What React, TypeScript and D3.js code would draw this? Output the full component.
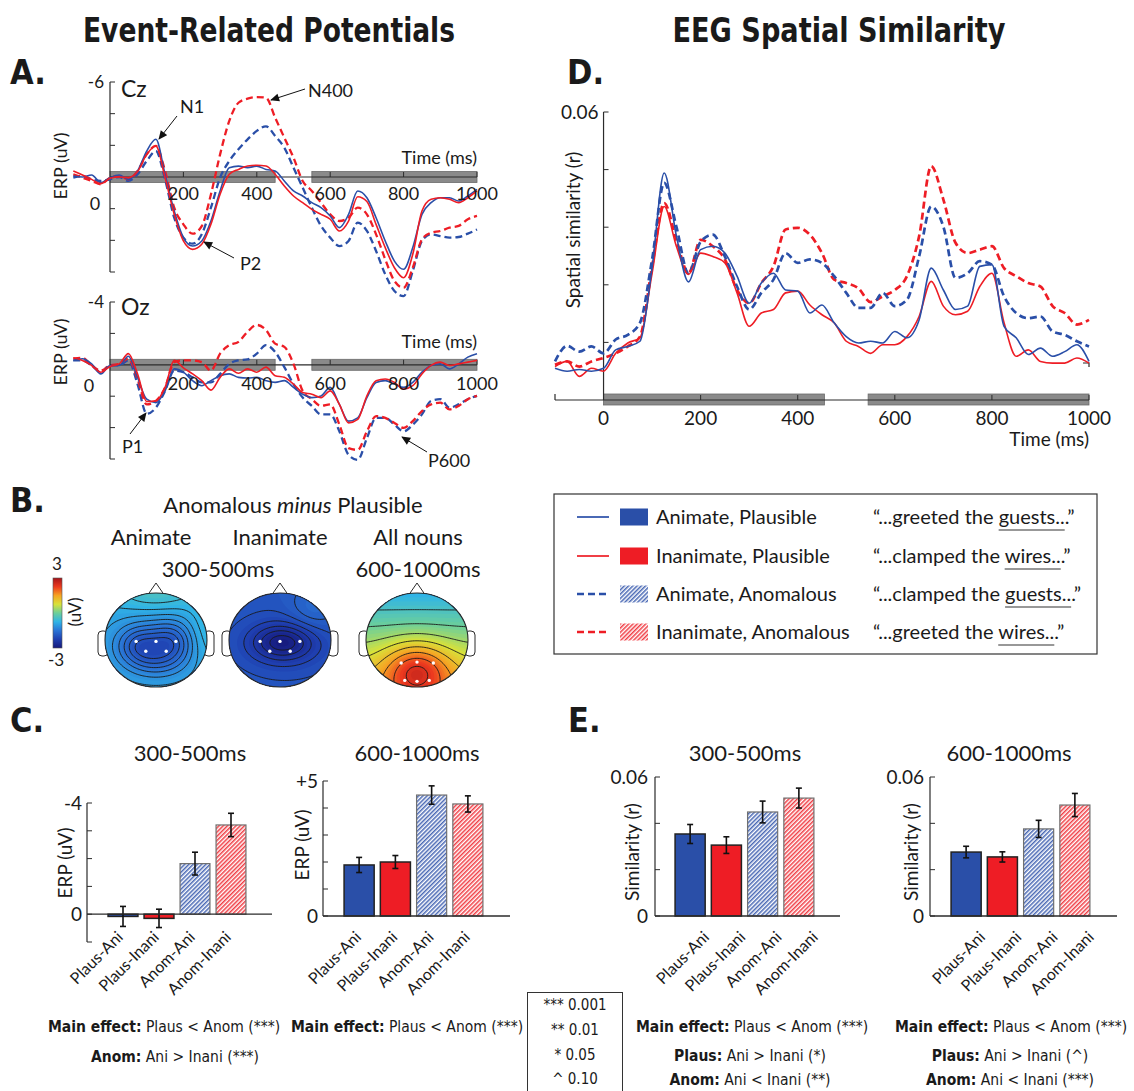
import React, { useEffect, useRef } from "react";
import * as d3 from "d3";

const BLUE = "#2a4fa8";
const RED = "#ee1d25";
const INK = "#2b2b2b";
const FONT = "Lato, 'Open Sans', 'Noto Sans', sans-serif";
const NARROW = "'Liberation Sans Narrow', 'DejaVu Sans Condensed', 'Liberation Sans', sans-serif";

// waveform time base (ms)
const erpTimes = d3.range(-100, 1001, 25);
const statWindows = [[0, 450], [550, 1000]];
const simWindows = [[0, 455], [545, 1000]];

// Cz ERPs (uV, negative plotted up)
const czPlausAni = [-0.06, 0, -0.13, 0.36, 0.04, -0.13, 0.15, -0.38, -1.64, -2.38, -0.17, 2.15, 3.83, 4.36, 4.04, 2.78, 0.88, -0.59, -0.69, -0.59, -0.69, -0.48, -0.38, 0.25, 0.88, 1.2, 1.62, 1.94, 2.46, 3.2, 2.36, 0.88, 1.31, 2.57, 4.04, 5.31, 5.83, 4.46, 2.36, 1.62, 1.31, 1.31, 1.52, 1.2, 0.78];
const czPlausInani = [-0.38, -0.13, 0.15, 0.42, 0.08, 0, 0.04, -0.34, -1.43, -1.96, 0.04, 2.36, 4.04, 4.57, 4.25, 2.99, 1.09, -0.17, -0.48, -0.69, -0.74, -0.69, -0.17, 0.57, 1.2, 1.62, 2.04, 2.36, 2.67, 3.41, 2.78, 1.25, 1.55, 2.99, 4.46, 5.73, 6.36, 4.88, 2.15, 1.41, 1.31, 1.41, 1.62, 1.31, 0.88];
const czAnomAni = [0.04, -0.06, 0.15, 0.25, 0.15, 0, 0.25, -0.17, -1.01, -1.64, 0.15, 2.57, 3.83, 4.21, 3.62, 1.94, 0.04, -1.01, -1.75, -2.38, -2.91, -3.2, -2.59, -1.85, -0.59, 0.67, 1.94, 3.09, 3.83, 4.36, 4.04, 2.88, 3.41, 4.67, 6.15, 7.2, 7.52, 5.94, 4.04, 3.62, 3.73, 3.83, 3.79, 3.58, 3.31];
const czAnomInani = [-0.17, 0.04, 0.25, 0.46, 0.04, -0.06, 0.15, -0.38, -1.43, -1.96, -0.38, 1.94, 2.99, 3.58, 3.1, 1.1, -1.43, -3.54, -4.69, -4.95, -5.05, -5.01, -3.75, -2.48, -1.22, 0.25, 0.88, 1.62, 2.36, 2.78, 2.57, 1.94, 2.36, 3.62, 5.2, 6.57, 6.99, 5.73, 3.94, 3.52, 3.41, 3.2, 3.09, 2.67, 2.46];

// Oz ERPs (uV)
const ozPlausAni = [-0.28, -0.39, -0.06, 0.58, 0.04, 0.04, -0.54, 0.8, 2.19, 2.41, 1.66, 0.26, 0.47, 1.01, 1.33, 1.01, 0.69, 0.58, 0.8, 0.84, 0.8, 1.01, 1.12, 1.01, 1.44, 1.87, 2.09, 1.98, 1.44, 2.52, 3.59, 3.38, 2.09, 1.12, 1.01, 1.23, 1.44, 1.12, 0.47, 0.04, -0.06, 0.26, -0.06, -0.49, -0.71];
const ozPlausInani = [-0.45, -0.28, 0.04, 0.47, 0.11, -0.06, -0.71, 0.58, 2.34, 2.3, 1.44, -0.28, 0.19, 0.58, 1.01, 1.61, 0.8, 0.26, 0.54, 0.26, 0.47, 0.15, 0.69, 0.8, 1.23, 1.76, 1.87, 2.09, 1.66, 2.52, 3.7, 3.48, 1.98, 1.01, 0.9, 1.12, 1.55, 1.33, 0.58, 0.04, -0.17, 0.04, -0.06, -0.17, -0.28];
const ozAnomAni = [-0.28, -0.28, 0.04, 0.47, 0.04, 0.04, -0.28, 1.23, 3.12, 2.73, 1.66, 0.37, 0.47, 0.8, 1.12, 1.12, 0.58, -0.06, -0.28, -0.34, -0.71, -1.25, -0.82, 0.15, 1.23, 2.09, 2.62, 3.16, 3.16, 4.24, 5.74, 6.06, 4.67, 3.38, 3.38, 3.81, 4.24, 3.81, 3.16, 2.3, 2.19, 2.73, 2.52, 2.19, 1.98];
const ozAnomInani = [-0.39, -0.45, 0.04, 0.37, 0.04, -0.06, -0.39, 0.9, 2.52, 2.3, 1.44, -0.17, -0.28, -0.28, -0.17, 0.37, -0.71, -1.25, -1.46, -2.11, -2.54, -2.22, -1.35, -1.14, -0.06, 1.66, 2.19, 2.62, 2.52, 3.81, 5.31, 5.42, 4.24, 3.27, 3.38, 3.7, 4.02, 3.59, 2.95, 2.52, 2.41, 2.84, 2.62, 2.19, 1.98];

// spatial similarity (r)
const simPlausAni = [0.0155, 0.015, 0.0153, 0.015, 0.0155, 0.0187, 0.0193, 0.0202, 0.033, 0.0494, 0.0385, 0.0305, 0.0361, 0.0367, 0.0355, 0.0315, 0.0268, 0.0303, 0.032, 0.0291, 0.0289, 0.0251, 0.0265, 0.0234, 0.021, 0.0199, 0.0202, 0.0199, 0.0219, 0.0208, 0.0239, 0.0329, 0.0291, 0.0257, 0.0263, 0.0332, 0.0335, 0.0228, 0.0208, 0.0179, 0.019, 0.0176, 0.0184, 0.0196, 0.0167];
const simPlausInani = [0.0158, 0.0167, 0.0141, 0.0155, 0.015, 0.0181, 0.0199, 0.0208, 0.032, 0.0436, 0.0367, 0.0318, 0.0355, 0.0349, 0.0338, 0.0286, 0.0228, 0.0251, 0.0257, 0.0286, 0.0289, 0.0265, 0.0248, 0.0234, 0.0202, 0.0193, 0.0181, 0.0196, 0.0196, 0.021, 0.0245, 0.0306, 0.0263, 0.0248, 0.0254, 0.0297, 0.032, 0.0234, 0.0176, 0.0187, 0.0167, 0.0164, 0.0164, 0.0173, 0.0164];
const simAnomAni = [0.0167, 0.0194, 0.0184, 0.0193, 0.0181, 0.0205, 0.0213, 0.0234, 0.0344, 0.0477, 0.0401, 0.032, 0.0375, 0.0387, 0.0349, 0.0297, 0.0257, 0.0286, 0.0309, 0.0355, 0.0338, 0.0344, 0.0338, 0.0315, 0.0286, 0.026, 0.026, 0.0286, 0.0263, 0.0274, 0.0349, 0.0436, 0.0401, 0.0312, 0.032, 0.0341, 0.0335, 0.028, 0.0251, 0.0242, 0.0245, 0.0219, 0.0213, 0.0202, 0.0193];
const simAnomInani = [0.0161, 0.0167, 0.0158, 0.0167, 0.0173, 0.0181, 0.0193, 0.021, 0.0332, 0.0442, 0.0378, 0.032, 0.0378, 0.0367, 0.0344, 0.0291, 0.0268, 0.0303, 0.0332, 0.0396, 0.0399, 0.0387, 0.0355, 0.0309, 0.0303, 0.0294, 0.027, 0.028, 0.0291, 0.0315, 0.0384, 0.0506, 0.0448, 0.0373, 0.0355, 0.0361, 0.0367, 0.0329, 0.0315, 0.0303, 0.0297, 0.0263, 0.0251, 0.0231, 0.0239];

// bar summaries
const barCats = ["Plaus-Ani", "Plaus-Inani", "Anom-Ani", "Anom-Inani"];
const erp300 = [0.08, 0.15, -1.82, -3.21];
const erp300Err = [0.36, 0.33, 0.41, 0.42];
const erp600 = [1.89, 2.0, 4.48, 4.15];
const erp600Err = [0.28, 0.24, 0.34, 0.3];
const sim300 = [0.0354, 0.0306, 0.0449, 0.0509];
const sim300Err = [0.0041, 0.0036, 0.0047, 0.0043];
const sim600 = [0.0276, 0.0255, 0.0376, 0.0479];
const sim600Err = [0.0025, 0.0022, 0.0037, 0.005];

const legendRows = [
  { label: "Animate, Plausible", color: BLUE, dashed: false, quote: "“...greeted the guests...”", word: "guests" },
  { label: "Inanimate, Plausible", color: RED, dashed: false, quote: "“...clamped the wires...”", word: "wires" },
  { label: "Animate, Anomalous", color: BLUE, dashed: true, quote: "“...clamped the guests...”", word: "guests" },
  { label: "Inanimate, Anomalous", color: RED, dashed: true, quote: "“...greeted the wires...”", word: "wires" },
];

// scalp maps: [x, y, amplitude, sx, sy] blobs on a base level (head radius = 1)
const topoAnimate = {
  base: -0.85, slope: 0,
  blobs: [[-0.33, 0.12, -0.7, 0.3, 0.28], [0.3, 0.05, -0.65, 0.28, 0.3], [0, 0.45, -0.35, 0.35, 0.25], [0, 0.1, -0.45, 0.65, 0.5], [0, -1.0, 0.45, 0.6, 0.3], [1.0, -0.2, 0.3, 0.25, 0.5]],
  levels: [-2.0, -1.8, -1.6, -1.4, -1.2, -1.0, -0.8, -0.6],
  dots: [[-0.39, 0.03], [0, 0.03], [0.39, 0.03], [-0.2, 0.24], [0.2, 0.24]],
};
const topoInanimate = {
  base: -1.9, slope: 0,
  blobs: [[0.05, 0.05, -0.75, 0.42, 0.26], [0.1, 0.1, -0.3, 0.7, 0.5], [0.65, -0.65, 0.3, 0.35, 0.35]],
  levels: [-2.8, -2.6, -2.4, -2.2, -2.0, -1.8, -1.6],
  dots: [[-0.39, 0.03], [0, 0.03], [0.39, 0.03], [-0.2, 0.24], [0.2, 0.24]],
};
const topoAll = {
  base: 0.3, slope: 1.1,
  blobs: [[0, 0.62, 1.5, 0.45, 0.4]],
  levels: [-0.4, 0.0, 0.4, 0.8, 1.2, 1.6, 2.0, 2.4],
  dots: [[-0.31, 0.49], [0, 0.47], [0.32, 0.49], [-0.24, 0.86], [0, 0.88], [0.24, 0.86]],
};

const jetStops = ["#16197c", "#1f3fb0", "#2a74d6", "#30b4e6", "#6ccf9a", "#d8e23a", "#f6a423", "#ec3a1f", "#a5141a"];
const jet = d3.scaleLinear<string>().domain(jetStops.map((_, i) => -3 + i * 0.75)).range(jetStops).clamp(true);

const xA = d3.scaleLinear().domain([-100, 1000]).range([73.3, 477]);
const seriesOrder = [2, 3, 0, 1];

function Arrow({ x1, y1, x2, y2 }: any) {
  return <line x1={x1} y1={y1} x2={x2} y2={y2} stroke="#111" strokeWidth={1} markerEnd="url(#arrowHead)" />;
}

function ErpPanel(props: any) {
  const { y, yTicks, data, chan, chanY, topLabel, timeLabelY, tickLabelY, zeroLabel, ylabelY } = props;
  const x = xA;
  const y0 = y(0);
  const line = d3.line<number>().x((_, i) => x(erpTimes[i])).y((d) => y(d)).curve(d3.curveMonotoneX);
  const dom = y.domain();
  return (
    <g>
      {statWindows.map(([a, b], i) => (
        <rect key={i} x={x(a)} y={y0 - 5.5} width={x(b) - x(a)} height={11} fill="#8a8a8a" stroke="#6a6a6a" strokeWidth={0.8} />
      ))}
      <line x1={x(0)} x2={x(1000)} y1={y0} y2={y0} stroke={INK} strokeWidth={1.2} />
      {[200, 400, 600, 800, 1000].map((t) => (
        <line key={t} x1={x(t)} x2={x(t)} y1={y0 - 5} y2={y0} stroke={INK} />
      ))}
      <line x1={x(0)} x2={x(0)} y1={y(dom[0])} y2={y(dom[1])} stroke={INK} strokeWidth={1.2} />
      {yTicks.map((v: number) => (
        <line key={v} x1={x(0)} x2={x(0) + 5} y1={y(v)} y2={y(v)} stroke={INK} />
      ))}
      {seriesOrder.map((k) => (
        <path key={k} d={line(data[k]) || ""} fill="none" stroke={legendRows[k].color}
          strokeWidth={legendRows[k].dashed ? 2.3 : 1.6} strokeDasharray={legendRows[k].dashed ? "7,4" : undefined} />
      ))}
      <text x={x(0) - 6} y={y(dom[0]) + 6} textAnchor="end" fontSize={17}>{topLabel}</text>
      <text x={x(0) + 11} y={chanY} fontSize={23}>{chan}</text>
      <text x={x(1000)} y={timeLabelY} textAnchor="end" fontSize={18}>Time (ms)</text>
      {[200, 400, 600, 800, 1000].map((t) => (
        <text key={t} x={x(t)} y={tickLabelY} textAnchor="middle" fontSize={18}>{t}</text>
      ))}
      <text x={zeroLabel[0]} y={zeroLabel[1]} textAnchor="middle" fontSize={18}>0</text>
      <text transform={`translate(67,${ylabelY}) rotate(-90)`} textAnchor="middle" fontSize={18}>ERP (uV)</text>
    </g>
  );
}

function Topomap({ cx, cy, rx, ry, spec, id }: any) {
  const n = 64;
  const e = 1.1;
  const grid: number[] = new Array(n * n);
  for (let j = 0; j < n; j++) {
    for (let i = 0; i < n; i++) {
      const x = ((i + 0.5) / n) * 2 * e - e;
      const y = ((j + 0.5) / n) * 2 * e - e;
      let v = spec.base + spec.slope * y;
      for (const [bx, by, amp, sx, sy] of spec.blobs) {
        v += amp * Math.exp(-(((x - bx) ** 2) / (2 * sx * sx) + ((y - by) ** 2) / (2 * sy * sy)));
      }
      grid[j * n + i] = v;
    }
  }
  const proj = d3.geoTransform({
    point(px: number, py: number) {
      (this as any).stream.point(cx + ((px / n) * 2 * e - e) * rx, cy + ((py / n) * 2 * e - e) * ry);
    },
  });
  const path = d3.geoPath(proj);
  const bands = d3.contours().size([n, n]).thresholds(d3.range(-3.4, 3.4, 0.1))(grid);
  const iso = d3.contours().size([n, n]).thresholds(spec.levels)(grid);
  return (
    <g>
      <clipPath id={id}><ellipse cx={cx} cy={cy} rx={rx} ry={ry} /></clipPath>
      <rect x={cx - rx - 7} y={cy - 9} width={10} height={25} rx={4} fill="#fff" stroke={INK} strokeWidth={1} />
      <rect x={cx + rx - 3} y={cy - 9} width={10} height={25} rx={4} fill="#fff" stroke={INK} strokeWidth={1} />
      <path d={`M${cx - 9},${cy - ry + 3} L${cx},${cy - ry - 10} L${cx + 9},${cy - ry + 3}`} fill="#fff" stroke={INK} strokeWidth={1} />
      <g clipPath={`url(#${id})`}>
        <rect x={cx - rx} y={cy - ry} width={2 * rx} height={2 * ry} fill="#fff" />
        {bands.map((b, k) => (
          <path key={k} d={path(b as any) || ""} fill={jet(b.value + 0.05)} />
        ))}
        {iso.map((c, k) => (
          <path key={k} d={path(c as any) || ""} fill="none" stroke="#1a1a1a" strokeWidth={0.9} />
        ))}
      </g>
      <ellipse cx={cx} cy={cy} rx={rx} ry={ry} fill="none" stroke={INK} strokeWidth={1.1} />
      {spec.dots.map(([dx, dy]: number[], k: number) => (
        <circle key={k} cx={cx + dx * rx} cy={cy + dy * ry} r={1.7} fill="#fff" />
      ))}
    </g>
  );
}

function BarPanel(props: any) {
  const { values, errs, y, axisX, axisRight, band, ticks, tickLabels, labelX, ylabel, ylabelX, ylabelY, title, titleX, labelDx } = props;
  const xb = d3.scaleBand().domain(barCats).range(band).paddingInner(0.17).paddingOuter(0.085);
  const fills = [BLUE, RED, "url(#hatchBlue)", "url(#hatchRed)"];
  const y0 = y(0);
  const dom = y.domain();
  return (
    <g>
      <text x={titleX} y={761} textAnchor="middle" fontSize={22}>{title}</text>
      <line x1={axisX} x2={axisX} y1={y(dom[0])} y2={y(dom[1])} stroke={INK} strokeWidth={1.2} />
      {ticks.map((v: number) => (
        <line key={v} x1={axisX} x2={axisX + 5} y1={y(v)} y2={y(v)} stroke={INK} />
      ))}
      {tickLabels.map(([v, t]: any) => (
        <text key={t} x={labelX} y={y(v) + 6.5} textAnchor="end" fontSize={19}>{t}</text>
      ))}
      <text transform={`translate(${ylabelX},${ylabelY}) rotate(-90)`} textAnchor="middle" fontSize={19}>{ylabel}</text>
      {values.map((v: number, i: number) => {
        const cx = (xb(barCats[i]) as number) + xb.bandwidth() / 2;
        const yv = y(v);
        const hatched = i >= 2;
        return (
          <g key={i}>
            <rect x={xb(barCats[i])} y={Math.min(y0, yv)} width={xb.bandwidth()} height={Math.max(Math.abs(yv - y0), 1.5)}
              fill={fills[i]} stroke={hatched ? "#707070" : "#222"} strokeWidth={hatched ? 1.2 : 1.5} />
            <line x1={cx} x2={cx} y1={y(v - errs[i])} y2={y(v + errs[i])} stroke="#111" strokeWidth={1.6} />
            <line x1={cx - 3} x2={cx + 3} y1={y(v - errs[i])} y2={y(v - errs[i])} stroke="#111" strokeWidth={1.6} />
            <line x1={cx - 3} x2={cx + 3} y1={y(v + errs[i])} y2={y(v + errs[i])} stroke="#111" strokeWidth={1.6} />
            <text transform={`translate(${cx + labelDx},938) rotate(-45)`} textAnchor="end" fontSize={16}>{barCats[i]}</text>
          </g>
        );
      })}
      <line x1={axisX} x2={axisRight} y1={y0} y2={y0} stroke={INK} strokeWidth={1.3} />
    </g>
  );
}

export default function App() {
  const legendRef = useRef<SVGGElement>(null);

  const yCz = d3.scaleLinear().domain([-6, 6]).range([82, 272]);
  const yOz = d3.scaleLinear().domain([-4, 6]).range([302, 459]);
  const xD = d3.scaleLinear().domain([-100, 1000]).range([555, 1089]);
  const yD = d3.scaleLinear().domain([0.01, 0.06]).range([400, 112]);
  const simLine = d3.line<number>().x((_, i) => xD(erpTimes[i])).y((d) => yD(d)).curve(d3.curveMonotoneX);
  const simData = [simPlausAni, simPlausInani, simAnomAni, simAnomInani];
  const legendY = [517, 556, 594, 632];

  useEffect(() => {
    const g = d3.select(legendRef.current);
    g.selectAll("line.ul").remove();
    g.selectAll<SVGTextElement, unknown>("text.quote").each(function (_, i) {
      const row = legendRows[i];
      const start = row.quote.indexOf(row.word);
      const x0 = this.getStartPositionOfChar(start).x;
      const w = this.getSubStringLength(start, row.word.length + 2);
      const yy = +(this.getAttribute("y") || 0) + 6;
      g.append("line").attr("class", "ul").attr("x1", x0).attr("x2", x0 + w).attr("y1", yy).attr("y2", yy)
        .attr("stroke", "#333").attr("stroke-width", 1.2);
    });
  }, []);

  return (
    <svg width={1134} height={1091} style={{ position: "absolute", left: 0, top: 0 }} fontFamily={FONT} fill="#1a1a1a">
      <defs>
        <marker id="arrowHead" viewBox="0 0 10 10" refX="9" refY="5" markerWidth="10" markerHeight="9" markerUnits="userSpaceOnUse" orient="auto">
          <path d="M0,0.5 L10,5 L0,9.5 z" fill="#111" />
        </marker>
        <pattern id="hatchBlue" width="3" height="10" patternUnits="userSpaceOnUse" patternTransform="rotate(45)">
          <rect width="3" height="10" fill="#fff" />
          <line x1="0.8" y1="0" x2="0.8" y2="10" stroke={BLUE} strokeWidth="1.3" />
        </pattern>
        <pattern id="hatchRed" width="3" height="10" patternUnits="userSpaceOnUse" patternTransform="rotate(45)">
          <rect width="3" height="10" fill="#fff" />
          <line x1="0.8" y1="0" x2="0.8" y2="10" stroke={RED} strokeWidth="1.3" />
        </pattern>
        <linearGradient id="jetBar" x1="0" y1="1" x2="0" y2="0">
          {jetStops.map((c, i) => <stop key={i} offset={`${(i / (jetStops.length - 1)) * 100}%`} stopColor={c} />)}
        </linearGradient>
      </defs>
      <rect width={1134} height={1091} fill="#fff" />

      {/* headings */}
      <text x={269} y={42} textAnchor="middle" fontFamily={NARROW} fontWeight="bold" fontSize={33} textLength={372} lengthAdjust="spacingAndGlyphs">Event-Related Potentials</text>
      <text x={839} y={42} textAnchor="middle" fontFamily={NARROW} fontWeight="bold" fontSize={33} textLength={333} lengthAdjust="spacingAndGlyphs">EEG Spatial Similarity</text>
      <text x={10} y={84} fontFamily={NARROW} fontWeight="bold" fontSize={34}>A.</text>
      <text x={567} y={84} fontFamily={NARROW} fontWeight="bold" fontSize={34}>D.</text>
      <text x={10} y={512} fontFamily={NARROW} fontWeight="bold" fontSize={34}>B.</text>
      <text x={10} y={732} fontFamily={NARROW} fontWeight="bold" fontSize={34}>C.</text>
      <text x={568} y={732} fontFamily={NARROW} fontWeight="bold" fontSize={34}>E.</text>

      {/* A: Cz */}
      <ErpPanel y={yCz} yTicks={[-6, -4, -2, 0, 2, 4, 6]} data={[czPlausAni, czPlausInani, czAnomAni, czAnomInani]}
        chan="Cz" chanY={97} topLabel="-6" timeLabelY={164} tickLabelY={200} zeroLabel={[95, 210]} ylabelY={166} />
      <text x={180} y={113} fontSize={18}>N1</text>
      <Arrow x1={177} y1={116} x2={159} y2={139} />
      <text x={308} y={97} fontSize={18}>N400</text>
      <Arrow x1={305} y1={89} x2={271} y2={100} />
      <text x={240} y={270} fontSize={18}>P2</text>
      <Arrow x1={234} y1={258} x2={204} y2={242} />

      {/* A: Oz */}
      <ErpPanel y={yOz} yTicks={[-4, -2, 0, 2, 4, 6]} data={[ozPlausAni, ozPlausInani, ozAnomAni, ozAnomInani]}
        chan="Oz" chanY={315} topLabel="-4" timeLabelY={348} tickLabelY={390} zeroLabel={[89, 392]} ylabelY={352} />
      <text x={122} y={453} fontSize={18}>P1</text>
      <Arrow x1={130} y1={434} x2={146} y2={413} />
      <text x={428} y={467} fontSize={18}>P600</text>
      <Arrow x1={427} y1={452} x2={402} y2={437} />

      {/* D: spatial similarity */}
      <g>
        {simWindows.map(([a, b], i) => (
          <rect key={i} x={xD(a)} y={394} width={xD(b) - xD(a)} height={11} fill="#8a8a8a" stroke="#6a6a6a" strokeWidth={0.8} />
        ))}
        <line x1={xD(-100)} x2={xD(1000)} y1={400} y2={400} stroke={INK} strokeWidth={1.2} />
        <line x1={xD(-100)} x2={xD(-100)} y1={394} y2={400} stroke={INK} strokeWidth={1.2} />
        {[200, 400, 600, 800, 1000].map((t) => (
          <line key={t} x1={xD(t)} x2={xD(t)} y1={395} y2={400} stroke={INK} />
        ))}
        <line x1={xD(0)} x2={xD(0)} y1={yD(0.06)} y2={400} stroke={INK} strokeWidth={1.2} />
        {[0.02, 0.03, 0.04, 0.05, 0.06].map((v) => (
          <line key={v} x1={xD(0)} x2={xD(0) + 5} y1={yD(v)} y2={yD(v)} stroke={INK} />
        ))}
        <path d="M1083,363 H1089 V367" fill="none" stroke={INK} strokeWidth={1.2} />
        {[3, 2, 1, 0].map((k) => (
          <path key={k} d={simLine(simData[k]) || ""} fill="none" stroke={legendRows[k].color}
            strokeWidth={legendRows[k].dashed ? 2.7 : 1.6} strokeDasharray={legendRows[k].dashed ? "7,4" : undefined} />
        ))}
        <text x={xD(0) - 5} y={yD(0.06) + 7} textAnchor="end" fontSize={19}>0.06</text>
        {[0, 200, 400, 600, 800, 1000].map((t) => (
          <text key={t} x={xD(t)} y={425} textAnchor="middle" fontSize={19}>{t}</text>
        ))}
        <text x={1089} y={446} textAnchor="end" fontSize={19}>Time (ms)</text>
        <text transform="translate(580,230) rotate(-90)" textAnchor="middle" fontSize={19}>Spatial similarity (r)</text>
      </g>

      {/* legend */}
      <g ref={legendRef}>
        <rect x={554} y={494} width={543} height={160} fill="none" stroke="#333" strokeWidth={1.2} />
        {legendRows.map((r, i) => (
          <g key={i}>
            <line x1={577} x2={609} y1={legendY[i]} y2={legendY[i]} stroke={r.color} strokeWidth={r.dashed ? 2.5 : 1.7}
              strokeDasharray={r.dashed ? "7,4" : undefined} />
            <rect x={620} y={legendY[i] - 8.5} width={28} height={17} fill={r.dashed ? `url(#${r.color === BLUE ? "hatchBlue" : "hatchRed"})` : r.color} />
            <text x={656} y={legendY[i] + 7} fontSize={20}>{r.label}</text>
            <text className="quote" x={873} y={legendY[i] + 7} fontSize={20}>{r.quote}</text>
          </g>
        ))}
      </g>

      {/* B: scalp maps */}
      <text x={293} y={513} textAnchor="middle" fontSize={22}>
        Anomalous <tspan fontStyle="italic">minus</tspan> Plausible
      </text>
      <text x={151} y={545} textAnchor="middle" fontSize={22}>Animate</text>
      <text x={280} y={545} textAnchor="middle" fontSize={22}>Inanimate</text>
      <text x={418} y={545} textAnchor="middle" fontSize={22}>All nouns</text>
      <text x={218} y={577} textAnchor="middle" fontSize={22}>300-500ms</text>
      <text x={418} y={577} textAnchor="middle" fontSize={22}>600-1000ms</text>
      <rect x={53} y={578} width={9} height={70} fill="url(#jetBar)" stroke="#555" strokeWidth={0.6} />
      <text x={57} y={570} textAnchor="middle" fontSize={17}>3</text>
      <text x={56} y={666} textAnchor="middle" fontSize={17}>-3</text>
      <text transform="translate(81,612) rotate(-90)" textAnchor="middle" fontSize={17}>(uV)</text>
      <Topomap id="topoA" cx={156} cy={640} rx={51} ry={47} spec={topoAnimate} />
      <Topomap id="topoI" cx={280} cy={640} rx={51} ry={47} spec={topoInanimate} />
      <Topomap id="topoN" cx={417} cy={640} rx={51} ry={47} spec={topoAll} />

      {/* C: ERP bars */}
      <BarPanel values={erp300} errs={erp300Err} y={d3.scaleLinear().domain([1, -4]).range([942, 803])}
        axisX={87} axisRight={272} band={[105, 249]} ticks={[-4, -3, -2, -1, 0, 1]} tickLabels={[[-4, "-4"], [0, "0"]]}
        labelX={82} ylabel="ERP (uV)" ylabelX={72} ylabelY={863} title="300-500ms" titleX={190} labelDx={1} />
      <BarPanel values={erp600} errs={erp600Err} y={d3.scaleLinear().domain([0, 5]).range([916, 781])}
        axisX={323} axisRight={510} band={[341, 486]} ticks={[0, 1, 2, 3, 4, 5]} tickLabels={[[5, "+5"], [0, "0"]]}
        labelX={318} ylabel="ERP (uV)" ylabelX={309} ylabelY={845} title="600-1000ms" titleX={417} labelDx={3} />

      {/* E: similarity bars */}
      <BarPanel values={sim300} errs={sim300Err} y={d3.scaleLinear().domain([0, 0.06]).range([916, 777])}
        axisX={655} axisRight={840} band={[672, 817]} ticks={[0, 0.02, 0.04, 0.06]} tickLabels={[[0.06, "0.06"], [0, "0"]]}
        labelX={648} ylabel="Similarity (r)" ylabelX={639} ylabelY={852} title="300-500ms" titleX={745} labelDx={20} />
      <BarPanel values={sim600} errs={sim600Err} y={d3.scaleLinear().domain([0, 0.06]).range([916, 777])}
        axisX={930} axisRight={1117} band={[948, 1093]} ticks={[0, 0.02, 0.04, 0.06]} tickLabels={[[0.06, "0.06"], [0, "0"]]}
        labelX={924} ylabel="Similarity (r)" ylabelX={918} ylabelY={852} title="600-1000ms" titleX={1009} labelDx={20} />

      {/* statistics notes */}
      <g fontFamily={NARROW} fontSize={15.5}>
        <text x={164} y={1032} textAnchor="middle"><tspan fontWeight="bold">Main effect:</tspan> Plaus &lt; Anom (***)</text>
        <text x={175} y={1062} textAnchor="middle"><tspan fontWeight="bold">Anom:</tspan> Ani &gt; Inani (***)</text>
        <text x={407} y={1032} textAnchor="middle"><tspan fontWeight="bold">Main effect:</tspan> Plaus &lt; Anom (***)</text>
        <text x={752} y={1032} textAnchor="middle"><tspan fontWeight="bold">Main effect:</tspan> Plaus &lt; Anom (***)</text>
        <text x={750} y={1061} textAnchor="middle"><tspan fontWeight="bold">Plaus:</tspan> Ani &gt; Inani (*)</text>
        <text x={750} y={1085} textAnchor="middle"><tspan fontWeight="bold">Anom:</tspan> Ani &lt; Inani (**)</text>
        <text x={1011} y={1032} textAnchor="middle"><tspan fontWeight="bold">Main effect:</tspan> Plaus &lt; Anom (***)</text>
        <text x={1010} y={1061} textAnchor="middle"><tspan fontWeight="bold">Plaus:</tspan> Ani &gt; Inani (^)</text>
        <text x={1010} y={1085} textAnchor="middle"><tspan fontWeight="bold">Anom:</tspan> Ani &lt; Inani (***)</text>
        <rect x={527.5} y={992.5} width={95} height={110} fill="none" stroke="#333" strokeWidth={1} />
        <text x={575} y={1010} textAnchor="middle" fontSize={15}>*** 0.001</text>
        <text x={575} y={1035} textAnchor="middle" fontSize={15}>** 0.01</text>
        <text x={575} y={1060} textAnchor="middle" fontSize={15}>* 0.05</text>
        <text x={575} y={1084} textAnchor="middle" fontSize={15}>^ 0.10</text>
      </g>
    </svg>
  );
}
